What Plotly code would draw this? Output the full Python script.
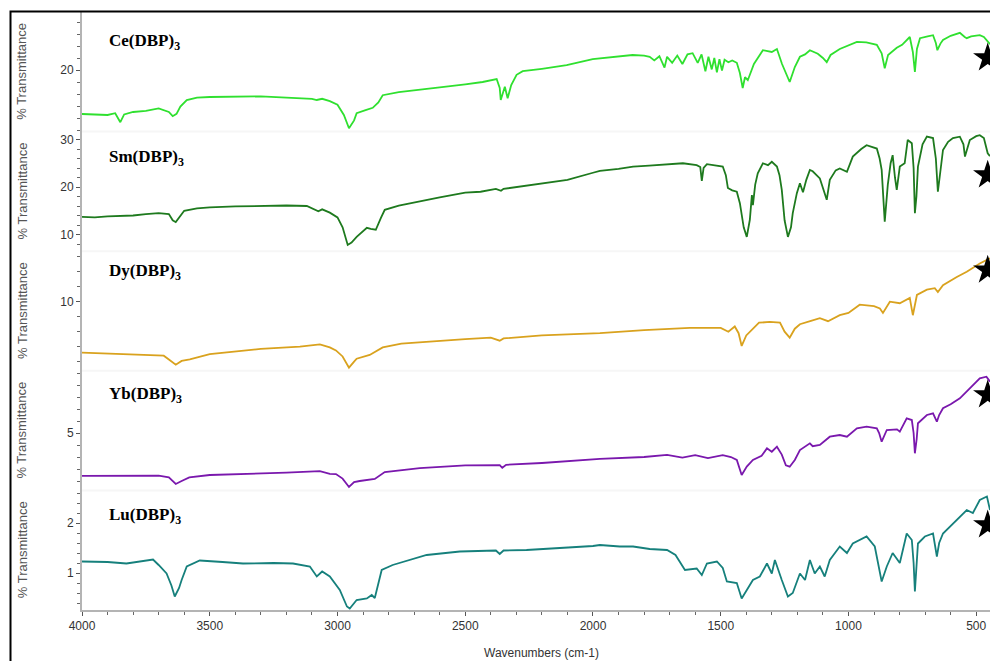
import plotly.graph_objects as go

# ---------------- data (wavenumber cm-1, % transmittance) ----------------
ce_wn = [4000,3950,3900,3870,3850,3835,3800,3750,3700,3660,3645,3630,3615,3590,3550,3500,3400,3300,3200,3100,3081,3060,3030,3000,2975,2955,2935,2925,2890,2862,2840,2823,2760,2690,2600,2500,2432,2377,2365,2361,2350,2345,2334,2320,2299,2275,2200,2103,2001,1907,1845,1800,1778,1760,1740,1720,1710,1690,1670,1650,1630,1610,1590,1575,1560,1548,1535,1525,1515,1505,1495,1485,1470,1455,1437,1425,1414,1405,1394,1370,1335,1300,1280,1260,1245,1230,1210,1190,1170,1151,1120,1100,1085,1070,1034,1000,967,930,889,870,858,845,811,790,760,748,740,732,720,690,669,658,652,640,630,600,564,545,537,520,486,470,455,446]
ce_t = [12.67,12.6,12.5,12.8,11.3,12.6,13.0,13.2,13.6,13.0,12.3,12.7,13.9,15.0,15.4,15.5,15.5,15.6,15.4,15.2,15.0,15.2,14.8,14.2,12.5,10.3,11.6,12.8,13.3,13.7,14.6,15.8,16.3,16.7,17.1,17.6,18.0,18.5,17.0,15.0,16.5,17.2,15.3,17.5,19.2,19.8,20.2,20.8,21.8,22.2,22.5,22.4,22.2,21.6,22.3,20.4,22.2,21.2,22.4,21.0,22.6,22.8,21.2,22.6,19.8,22.2,20.1,22.0,19.6,21.8,19.9,21.7,21.3,21.6,21.2,19.5,17.0,18.8,18.3,21.0,23.3,23.0,23.5,21.0,19.5,18.0,20.5,22.2,22.6,23.3,22.7,22.0,21.3,22.5,23.5,24.1,24.7,24.6,24.2,22.8,20.3,22.5,23.7,24.2,25.5,23.0,19.7,23.5,25.3,25.6,25.8,24.5,23.3,24.4,25.0,25.7,26.2,25.5,25.3,25.6,25.8,25.5,24.7,24.3]

sm_wn = [4000,3950,3900,3850,3800,3750,3700,3660,3645,3633,3620,3600,3550,3500,3400,3300,3200,3120,3090,3075,3060,3030,3000,2980,2960,2945,2925,2900,2885,2870,2850,2830,2815,2760,2715,2600,2500,2440,2380,2360,2350,2300,2210,2100,2000,1973,1900,1843,1780,1710,1648,1594,1580,1574,1567,1554,1520,1492,1480,1472,1455,1437,1425,1410,1398,1386,1378,1374,1365,1355,1335,1315,1300,1280,1270,1261,1250,1237,1225,1218,1202,1190,1178,1165,1151,1140,1112,1100,1085,1073,1050,1034,1006,983,950,929,889,878,870,858,846,835,827,818,811,799,780,768,752,745,740,734,728,710,693,669,658,650,640,630,610,591,564,550,544,535,525,500,486,470,455,446]
sm_t = [13.7,13.6,13.8,13.9,14.0,14.3,14.5,14.3,13.0,12.6,13.6,15.0,15.5,15.7,15.9,16.0,16.1,16.0,15.2,14.9,15.3,14.6,13.6,11.5,7.8,8.3,9.5,10.8,11.4,11.2,11.0,13.5,15.2,16.1,16.6,17.8,18.8,19.0,19.6,19.2,19.6,20.0,20.6,21.5,23.0,23.4,23.8,24.3,24.5,24.8,25.0,24.6,24.2,21.3,24.0,24.8,24.6,24.3,22.5,19.8,19.3,19.0,16.6,11.5,9.5,13.1,18.3,16.2,20.5,22.9,25.0,24.6,25.3,24.3,22.5,19.4,13.0,9.5,11.5,14.5,18.7,20.8,18.9,21.5,23.6,23.3,21.8,20.0,17.3,21.5,23.5,23.9,23.2,26.4,28.0,28.8,28.1,26.0,23.6,12.7,20.5,25.0,26.7,22.0,19.4,24.3,25.0,29.9,29.2,24.0,14.5,18.0,24.3,29.0,30.6,30.3,26.0,19.0,23.5,27.8,29.5,30.3,30.6,29.0,26.4,28.0,29.9,30.7,30.9,30.3,27.1,26.5]

dy_wn = [4000,3900,3800,3735,3680,3660,3633,3610,3578,3500,3421,3300,3147,3069,3030,3006,2980,2955,2935,2925,2874,2823,2750,2678,2500,2400,2365,2350,2200,1973,1800,1621,1500,1470,1445,1430,1418,1400,1386,1350,1308,1268,1250,1230,1210,1190,1150,1112,1080,1034,1000,956,900,877,865,838,799,760,748,732,693,662,650,630,576,537,486,446]
dy_t = [3.2,3.1,3.0,2.9,2.8,2.3,1.6,2.1,2.3,3.0,3.3,3.7,4.0,4.3,3.9,3.5,2.7,1.2,2.0,2.4,2.9,3.9,4.4,4.6,5.0,5.2,4.8,5.1,5.5,5.8,6.2,6.5,6.5,6.0,6.7,5.8,4.1,5.5,6.0,7.2,7.3,7.2,6.0,5.2,6.4,7.0,7.4,7.8,7.4,8.2,8.5,9.6,9.4,9.1,8.5,10.0,9.8,10.5,8.2,10.9,11.6,11.8,11.3,12.2,13.3,14.0,15.1,15.8]

yb_wn = [4000,3900,3800,3700,3660,3633,3610,3580,3500,3342,3200,3069,3030,3006,2980,2955,2935,2913,2854,2815,2678,2500,2365,2355,2340,2200,1973,1800,1710,1650,1600,1550,1492,1460,1437,1418,1398,1374,1340,1319,1300,1280,1261,1245,1230,1210,1190,1151,1140,1112,1073,1034,1006,967,929,889,880,870,850,810,799,772,752,745,740,733,728,693,669,654,645,630,600,564,525,486,460,446]
yb_t = [1.42,1.45,1.42,1.45,1.30,0.75,1.0,1.3,1.5,1.58,1.7,1.83,1.6,1.58,1.2,0.5,0.9,1.0,1.17,1.75,2.08,2.3,2.33,2.1,2.35,2.5,2.85,3.0,3.17,2.95,3.15,2.9,3.15,3.0,2.75,1.5,2.2,2.75,3.1,3.72,3.44,3.86,3.2,2.3,2.19,2.75,3.58,4.14,3.9,4.0,4.69,4.83,4.69,5.39,5.53,5.39,5.0,4.28,5.25,5.3,5.11,6.22,6.08,5.0,3.31,4.5,5.81,6.5,6.64,5.94,6.5,7.06,7.4,7.89,8.72,9.56,9.69,9.28]

lu_wn = [4000,3900,3826,3760,3722,3700,3669,3650,3637,3620,3610,3590,3539,3450,3370,3250,3174,3108,3081,3060,3030,2991,2963,2952,2925,2885,2866,2854,2827,2784,2651,2521,2380,2365,2350,2260,2158,2000,1973,1895,1843,1778,1710,1677,1640,1594,1574,1554,1515,1492,1476,1437,1418,1398,1374,1347,1319,1300,1288,1261,1237,1218,1190,1170,1151,1132,1112,1093,1073,1034,1006,983,929,897,883,870,850,827,799,772,752,745,740,733,728,701,669,654,645,630,591,564,537,513,486,458,446]
lu_t = [1.23,1.22,1.19,1.24,1.27,1.16,0.99,0.75,0.53,0.7,0.86,1.13,1.25,1.22,1.19,1.2,1.19,1.13,0.93,1.03,0.93,0.66,0.33,0.29,0.46,0.49,0.56,0.5,1.06,1.16,1.36,1.43,1.45,1.38,1.45,1.46,1.49,1.54,1.56,1.53,1.53,1.48,1.46,1.36,1.06,1.09,0.96,1.19,1.23,1.1,0.83,0.8,0.49,0.66,0.86,0.93,1.19,0.99,1.26,0.86,0.53,0.6,0.99,0.86,1.26,0.99,1.13,0.93,1.26,1.53,1.4,1.59,1.73,1.53,1.2,0.83,1.13,1.4,1.2,1.79,1.66,1.2,0.63,1.2,1.59,1.73,1.79,1.33,1.6,1.79,1.99,2.13,2.26,2.2,2.46,2.53,2.26]

names = ["Ce(DBP)<sub>3</sub>", "Sm(DBP)<sub>3</sub>", "Dy(DBP)<sub>3</sub>", "Yb(DBP)<sub>3</sub>", "Lu(DBP)<sub>3</sub>"]
star_wn = [455, 455, 455, 455, 455]
star_t = [22.0, 22.5, 14.2, 8.17, 1.96]
x_ticks = [4000, 3500, 3000, 2500, 2000, 1500, 1000, 500]

# ---------------- styling / layout ----------------
series = [(ce_wn, ce_t), (sm_wn, sm_t), (dy_wn, dy_t), (yb_wn, yb_t), (lu_wn, lu_t)]
colors = ["#2fe02f", "#1e7a1e", "#d9a21e", "#7a18ad", "#16807c"]
y_ranges = [[9.733, 29.667], [6.484, 31.663], [0.787, 16.733], [0.217, 10.183], [0.26, 2.652]]
y_tickvals = [[20], [10, 20, 30], [10], [5], [1, 2]]
y_minor = [2, 2, 2, 1, 0.2]

W, H = 990, 661
L, R, T, B = 82, 0, 12, 51
pw, ph = W - L - R, H - T - B

def px_x(px):
    return (px - L) / pw

def px_y(py):
    return (H - B - py) / ph

fig = go.Figure()
for i, (wn, t) in enumerate(series):
    ya = "y" if i == 0 else f"y{i+1}"
    fig.add_trace(go.Scatter(x=wn, y=t, mode="lines", line=dict(color=colors[i], width=1.8),
                             xaxis="x", yaxis=ya, showlegend=False, hoverinfo="skip"))
    fig.add_trace(go.Scatter(x=[star_wn[i]], y=[star_t[i]], mode="markers",
                             marker=dict(symbol="star", size=22, color="black"),
                             xaxis="x", yaxis=ya, showlegend=False, hoverinfo="skip"))

layout = dict(
    width=W, height=H,
    margin=dict(l=L, r=R, t=T, b=B),
    paper_bgcolor="white", plot_bgcolor="white",
    font=dict(family="Liberation Sans, Arial, sans-serif", size=12, color="#333"),
    xaxis=dict(range=[4000, 446], anchor="y5", showline=True, linecolor="#b4b4b4", linewidth=2,
               tickvals=x_ticks, ticks="outside", ticklen=4, tickcolor="#555",
               minor=dict(tickmode="linear", tick0=0, dtick=100, ticks="outside", ticklen=3, tickcolor="#666"),
               showgrid=False, zeroline=False, tickfont=dict(size=12, color="#333")),
)
for i in range(5):
    key = "yaxis" if i == 0 else f"yaxis{i+1}"
    layout[key] = dict(
        domain=[1 - (i + 1) / 5, 1 - i / 5], range=y_ranges[i], anchor="x",
        showline=True, linecolor="#b4b4b4", linewidth=2,
        tickmode="array", tickvals=y_tickvals[i], ticks="outside", ticklen=4, tickcolor="#555",
        minor=dict(tickmode="linear", tick0=0, dtick=y_minor[i], ticks="outside", ticklen=3, tickcolor="#666"),
        showgrid=False, zeroline=False, tickfont=dict(size=12, color="#333"))
fig.update_layout(**layout)

annotations = []
label_py = [42, 158, 272, 395, 516]
for i in range(5):
    annotations.append(dict(text="<b>" + names[i] + "</b>", xref="paper", yref="paper",
                            x=px_x(107), y=px_y(label_py[i]), xanchor="left", yanchor="middle",
                            showarrow=False, font=dict(family="Liberation Serif, Times New Roman, serif", size=17, color="black")))
    yc = 1 - (i + 0.5) / 5
    annotations.append(dict(text="% Transmittance", xref="paper", yref="paper", x=px_x(22), y=yc,
                            textangle=-90, showarrow=False, xanchor="center", yanchor="middle",
                            font=dict(size=13, color="#555")))
annotations.append(dict(text="Wavenumbers (cm-1)", xref="paper", yref="paper", x=px_x(541), y=px_y(653),
                        showarrow=False, xanchor="center", yanchor="middle", font=dict(size=12, color="#333")))
fig.update_layout(annotations=annotations)

shapes = []
for k in range(1, 5):
    shapes.append(dict(type="line", xref="paper", yref="paper", x0=0, x1=1, y0=k / 5, y1=k / 5,
                       line=dict(color="#f6f6f6", width=2), layer="below"))
shapes.append(dict(type="rect", xref="paper", yref="paper", x0=px_x(10.5), x1=px_x(1000),
                   y0=px_y(670), y1=px_y(11.5), line=dict(color="black", width=2), layer="above"))
fig.update_layout(shapes=shapes)

fig.write_html("out.html")
